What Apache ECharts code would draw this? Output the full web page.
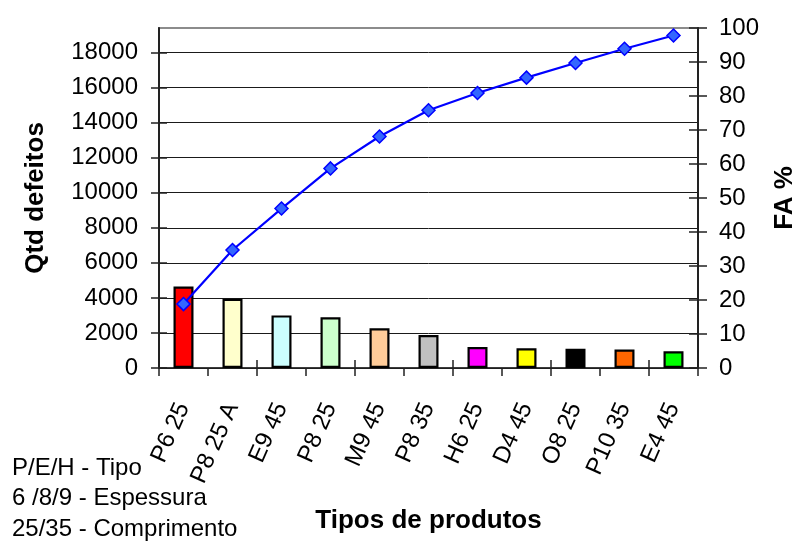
<!DOCTYPE html>
<html>
<head>
<meta charset="utf-8">
<script src="https://cdn.jsdelivr.net/npm/echarts@6/dist/echarts.min.js"></script>
<style>
  html, body { margin: 0; padding: 0; background: #fff; }
  #chart { width: 806px; height: 543px; }
</style>
</head>
<body>
<div id="chart"></div>
<script>
// Product types (Pareto order)
const categories = ['P6 25', 'P8 25 A', 'E9 45', 'P8 25', 'M9 45', 'P8 35', 'H6 25', 'D4 45', 'O8 25', 'P10 35', 'E4 45'];
// Number of defects per product type
const defects = [4650, 3950, 3000, 2900, 2270, 1880, 1200, 1120, 1100, 1050, 950];
// Cumulative share of defects (FA %)
const cumulativePct = [18.8, 34.7, 46.9, 58.7, 68.1, 75.8, 80.9, 85.4, 89.7, 93.9, 97.8];
// Tick values shown on each value axis
const leftTicks = [0, 2000, 4000, 6000, 8000, 10000, 12000, 14000, 16000, 18000];
const rightTicks = [0, 10, 20, 30, 40, 50, 60, 70, 80, 90, 100];
// Key for the product codes
const noteLines = ['P/E/H - Tipo', '6 /8/9 - Espessura', '25/35 - Comprimento'];

// Fill colour of each bar
const barColors = ['#FF0000', '#FFFFCC', '#CCFFFF', '#CCFFCC', '#FFCC99', '#C0C0C0', '#FF00FF', '#FFFF00', '#000000', '#FF6600', '#00FF00'];

const FONT = 'Arial, "Liberation Sans", sans-serif';
const LEFT_MAX = 19400;

const chart = echarts.init(document.getElementById('chart'), null, { renderer: 'canvas' });

const tickLine = { color: '#222', width: 1.5 };
const plain = v => String(v);

const option = {
  backgroundColor: '#fff',
  animation: false,
  textStyle: { fontFamily: FONT },
  grid: {
    left: 159, right: 104, top: 28, bottom: 175,
    show: true, borderColor: '#8c8c8c', borderWidth: 2, backgroundColor: '#fff'
  },
  xAxis: [
    {
      type: 'category',
      data: categories,
      boundaryGap: true,
      name: 'Tipos de produtos',
      nameLocation: 'middle',
      nameGap: 140,
      nameTextStyle: { fontFamily: FONT, fontSize: 26, fontWeight: 'bold', color: '#000' },
      axisLine: { show: true, lineStyle: { color: '#222', width: 1.5 } },
      axisTick: { show: true, inside: false, length: 8, lineStyle: tickLine },
      axisLabel: { rotate: 66, margin: 36, fontSize: 24, color: '#000', fontFamily: FONT, interval: 0 },
      splitLine: { show: false }
    },
    {
      // inner half of the crossing category ticks
      type: 'category',
      data: categories,
      boundaryGap: true,
      position: 'bottom',
      axisLine: { show: false },
      axisTick: { show: true, inside: true, length: 8, lineStyle: tickLine },
      axisLabel: { show: false },
      splitLine: { show: false }
    }
  ],
  yAxis: [
    {
      type: 'value',
      position: 'left',
      min: 0, max: LEFT_MAX, interval: 2000,
      name: 'Qtd defeitos',
      nameLocation: 'middle',
      nameRotate: 90,
      nameGap: 110,
      nameTextStyle: { fontFamily: FONT, fontSize: 26, fontWeight: 'bold', color: '#000' },
      axisLine: { show: true, lineStyle: { color: '#222', width: 2 } },
      axisTick: { show: true, inside: false, length: 8, lineStyle: tickLine, customValues: leftTicks },
      axisLabel: { fontSize: 24, color: '#000', margin: 21, fontFamily: FONT, customValues: leftTicks, formatter: plain },
      splitLine: { show: true, lineStyle: { color: '#1a1a1a', width: 1 } }
    },
    {
      type: 'value',
      position: 'right',
      min: 0, max: 100, interval: 10,
      name: 'FA %',
      nameLocation: 'middle',
      nameRotate: 90,
      nameGap: 74,
      nameTextStyle: { fontFamily: FONT, fontSize: 26, fontWeight: 'bold', color: '#000' },
      axisLine: { show: true, lineStyle: { color: '#222', width: 2 } },
      axisTick: { show: true, inside: false, length: 9, lineStyle: tickLine, customValues: rightTicks },
      axisLabel: { fontSize: 24, color: '#000', margin: 21, fontFamily: FONT, customValues: rightTicks, formatter: plain },
      splitLine: { show: false }
    },
    {
      // inner half of the crossing left ticks
      type: 'value',
      position: 'left',
      min: 0, max: LEFT_MAX, interval: 2000,
      axisLine: { show: false },
      axisTick: { show: true, inside: true, length: 8, lineStyle: tickLine, customValues: leftTicks },
      axisLabel: { show: false },
      splitLine: { show: false }
    },
    {
      // inner half of the crossing right ticks
      type: 'value',
      position: 'right',
      min: 0, max: 100, interval: 10,
      axisLine: { show: false },
      axisTick: { show: true, inside: true, length: 9, lineStyle: tickLine, customValues: rightTicks },
      axisLabel: { show: false },
      splitLine: { show: false }
    }
  ],
  series: [
    {
      name: 'Qtd defeitos',
      type: 'bar',
      xAxisIndex: 0,
      yAxisIndex: 0,
      barWidth: 20,
      data: defects.map((v, i) => ({
        value: v,
        itemStyle: { color: barColors[i], borderColor: '#000', borderWidth: 2.2 }
      })),
      z: 2
    },
    {
      name: 'FA %',
      type: 'line',
      xAxisIndex: 0,
      yAxisIndex: 1,
      data: cumulativePct,
      symbol: 'diamond',
      symbolSize: 13,
      lineStyle: { color: '#0000FF', width: 2.2 },
      itemStyle: { color: '#3366FF', borderColor: '#0000FF', borderWidth: 1.5 },
      z: 5
    }
  ],
  graphic: noteLines.map((t, i) => ({
    type: 'text',
    left: 12,
    top: 456 + i * 30.5,
    style: { text: t, font: '24px ' + FONT, fill: '#000' }
  }))
};

chart.setOption(option);
</script>
</body>
</html>
